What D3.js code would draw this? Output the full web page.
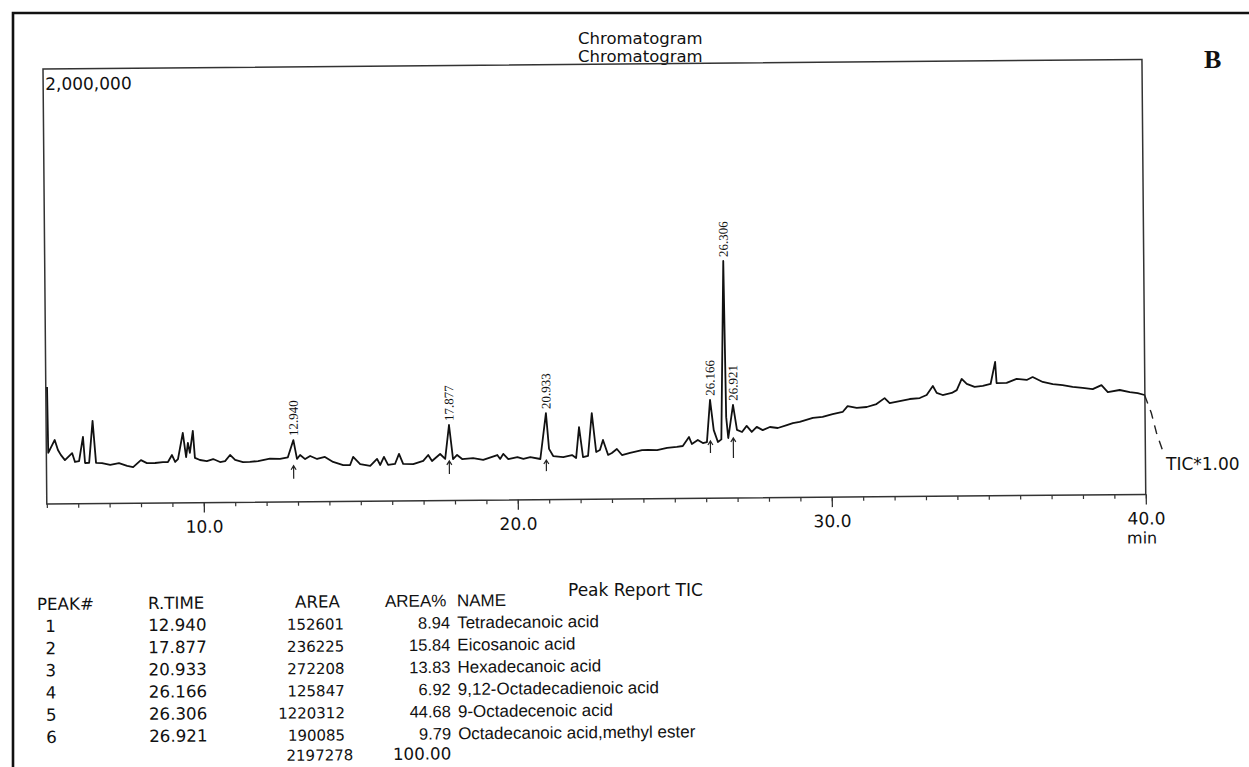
<!DOCTYPE html>
<html>
<head>
<meta charset="utf-8">
<script src="https://cdn.jsdelivr.net/npm/d3@7"></script>
<style>
  html, body { margin: 0; padding: 0; background: #fff; }
  svg { display: block; }
</style>
</head>
<body>
<svg id="chart" width="1249" height="767"></svg>
<script>
// ---------------- DATA ----------------
// TIC trace: retention time (min) and intensity (thousands of counts)
const traceMin = [5.04,5.06,5.27,5.37,5.46,5.59,5.82,5.91,6.04,6.17,
  6.23,6.36,6.48,6.58,6.77,7.03,7.31,7.57,7.76,8.01,
  8.20,8.46,8.71,8.87,9.00,9.10,9.19,9.35,9.45,9.51,
  9.57,9.67,9.73,9.89,10.11,10.31,10.53,10.69,10.85,11.01,
  11.26,11.48,11.74,12.12,12.44,12.69,12.87,12.98,13.08,13.24,
  13.40,13.62,13.87,14.13,14.45,14.67,14.77,14.99,15.31,15.53,
  15.63,15.75,15.88,16.10,16.23,16.36,16.68,17.00,17.16,17.28,
  17.54,17.70,17.83,17.95,18.08,18.24,18.59,18.91,19.36,19.45,
  19.55,19.71,20.00,20.19,20.41,20.73,20.92,21.01,21.14,21.46,
  21.74,21.87,21.97,22.09,22.25,22.38,22.51,22.63,22.73,22.89,
  23.01,23.17,23.33,23.59,23.97,24.16,24.45,24.77,25.08,25.27,
  25.47,25.56,25.75,25.91,26.04,26.15,26.26,26.39,26.50,26.61,
  26.66,26.72,26.88,27.00,27.16,27.31,27.47,27.63,27.82,28.05,
  28.30,28.59,28.78,29.00,29.42,29.73,30.05,30.37,30.53,30.82,
  31.14,31.45,31.71,31.87,32.19,32.51,32.83,33.05,33.25,33.37,
  33.56,33.85,34.01,34.17,34.33,34.58,34.84,35.09,35.24,35.28,
  35.60,35.92,36.24,36.43,36.75,37.07,37.38,37.70,38.02,38.34,
  38.62,38.82,39.20,39.52,39.77,39.99];
const traceK = [538,235,294,248,225,201,233,192,196,307,
  187,187,380,187,186,177,185,172,166,198,
  184,184,188,188,220,188,201,321,210,275,
  229,330,206,196,191,200,186,190,218,195,
  185,185,189,200,198,205,284,197,215,196,
  210,196,205,182,167,167,204,171,162,194,
  166,203,166,170,216,170,169,183,210,182,
  214,191,347,190,209,190,194,185,207,189,
  212,188,197,188,196,187,398,233,200,195,
  204,190,332,194,199,396,217,226,272,203,
  212,230,202,211,224,224,223,233,237,241,
  282,250,268,254,258,452,313,258,270,1090,
  372,276,428,313,303,331,303,326,311,325,
  320,333,342,347,365,369,382,391,418,409,
  413,426,453,430,439,448,452,466,507,475,
  465,474,487,538,515,501,505,514,615,518,
  518,536,531,544,521,511,506,497,492,486,
  504,472,481,471,466,457];
// trace continuing past the 40 min edge (dashed)
const tailMin = [39.99, 40.20, 40.36, 40.60];
const tailK   = [457, 374, 282, 180];

// labelled peaks: apex as drawn (min, thousands of counts)
const apexMin = [12.87, 17.83, 20.92, 26.15, 26.61, 26.88];
const apexK   = [284, 347, 398, 452, 1090, 428];
// integration arrows under peaks (thousands of counts), null = none drawn
const arrowTopK    = [166, 182, 182, 263, null, 276];
const arrowBottomK = [106, 122, 131, 208, null, 184];

// peak report table
const peakNo    = ["1","2","3","4","5","6"];
const rTime     = ["12.940","17.877","20.933","26.166","26.306","26.921"];
const area      = [152601, 236225, 272208, 125847, 1220312, 190085];
const areaPct   = ["8.94","15.84","13.83","6.92","44.68","9.79"];
const peakName  = ["Tetradecanoic acid","Eicosanoic acid","Hexadecanoic acid",
                   "9,12-Octadecadienoic acid","9-Octadecenoic acid",
                   "Octadecanoic acid,methyl ester"];
const totalArea = "2197278";
const totalPct  = "100.00";

// axes
const xDomain = [5, 40];
const yDomainK = [0, 2000];
const majorTicks = [10, 20, 30, 40];
const majorTickLabels = ["10.0", "20.0", "30.0", "40.0"];
const yTopLabel = "2,000,000";

// ---------------- DRAWING ----------------
const svg = d3.select("#chart");
const SANS = "'DejaVu Sans', Verdana, sans-serif";
const ARIAL = "'Liberation Sans', Arial, sans-serif";
const SERIF = "'Liberation Serif', 'Times New Roman', serif";

// outer frame of the scanned page
svg.append("path")
  .attr("d", "M13,767 L13,13 L1249,13")
  .attr("fill", "none").attr("stroke", "#111").attr("stroke-width", 2.6);

// titles
svg.append("text").attr("x", 578).attr("y", 44)
  .attr("font-family", SANS).attr("font-size", 16.5).attr("fill", "#111")
  .text("Chromatogram");
svg.append("text").attr("x", 578).attr("y", 62)
  .attr("font-family", SANS).attr("font-size", 16.5).attr("fill", "#111")
  .text("Chromatogram");
svg.append("text").attr("x", 1204).attr("y", 68)
  .attr("font-family", SERIF).attr("font-weight", "bold").attr("font-size", 26).attr("fill", "#111")
  .text("B");

// plot area (slightly rotated like the scan)
const L = 43, T = 69, R = 1142, B = 504;
const x = d3.scaleLinear().domain(xDomain).range([L, R]);
const y = d3.scaleLinear().domain(yDomainK).range([B, T]);

const plot = svg.append("g").attr("transform", `rotate(-0.5, ${L}, ${T})`);

plot.append("rect")
  .attr("x", L).attr("y", T).attr("width", R - L).attr("height", B - T)
  .attr("fill", "none").attr("stroke", "#333").attr("stroke-width", 1.5);

// minor ticks (every minute)
const minorAxis = d3.axisBottom(x).tickValues(d3.range(xDomain[0], xDomain[1] + 1))
  .tickSize(4).tickFormat("");
plot.append("g").attr("transform", `translate(0,${B})`).call(minorAxis)
  .call(g => g.select(".domain").remove())
  .call(g => g.selectAll("line").attr("stroke", "#333").attr("stroke-width", 1.2));

// major ticks with labels
const majorAxis = d3.axisBottom(x).tickValues(majorTicks).tickSize(10).tickPadding(8)
  .tickFormat(d => majorTickLabels[majorTicks.indexOf(d)]);
plot.append("g").attr("transform", `translate(0,${B})`).call(majorAxis)
  .call(g => g.select(".domain").remove())
  .call(g => g.selectAll("line").attr("stroke", "#333").attr("stroke-width", 1.3))
  .call(g => g.selectAll("text").attr("font-family", SANS).attr("font-size", 17).attr("fill", "#111"));

plot.append("text").attr("x", x(40) - 4).attr("y", 553)
  .attr("text-anchor", "middle").attr("font-family", SANS).attr("font-size", 16).attr("fill", "#111")
  .text("min");

plot.append("text").attr("x", L + 2).attr("y", y(yDomainK[1]) + 21)
  .attr("font-family", SANS).attr("font-size", 17).attr("fill", "#111")
  .text(yTopLabel);

// trace
const pts = traceMin.map((t, i) => [t, traceK[i]]);
const line = d3.line().x(d => x(d[0])).y(d => y(d[1]));
plot.append("path").datum(pts).attr("d", line)
  .attr("fill", "none").attr("stroke", "#111").attr("stroke-width", 1.8)
  .attr("stroke-linejoin", "round");

const tail = tailMin.map((t, i) => [t, tailK[i]]);
plot.append("path").datum(tail).attr("d", line)
  .attr("fill", "none").attr("stroke", "#222").attr("stroke-width", 1.4)
  .attr("stroke-dasharray", "9,7");

// peak labels
const peaks = apexMin.map((t, i) => ({ t, v: apexK[i], label: rTime[i],
  top: arrowTopK[i], bottom: arrowBottomK[i] }));
plot.selectAll(".plabel").data(peaks).join("text")
  .attr("class", "plabel")
  .attr("transform", d => `translate(${x(d.t)},${y(d.v) - 4}) rotate(-90)`)
  .attr("dy", "0.35em")
  .attr("font-family", SERIF).attr("font-size", 13).attr("fill", "#111")
  .text(d => d.label);

// integration arrows
const arrows = peaks.filter(d => d.top !== null);
plot.selectAll(".arr").data(arrows).join("path")
  .attr("class", "arr")
  .attr("d", d => {
    const xx = x(d.t), yt = y(d.top), yb = y(d.bottom);
    return `M${xx},${yb} L${xx},${yt} M${xx - 2.5},${yt + 4} L${xx},${yt} L${xx + 2.5},${yt + 4}`;
  })
  .attr("fill", "none").attr("stroke", "#222").attr("stroke-width", 1.2);

// TIC label
svg.append("text").attr("x", 1166).attr("y", 470)
  .attr("font-family", SANS).attr("font-size", 17).attr("fill", "#111")
  .text("TIC*1.00");

// ---------------- PEAK REPORT TABLE ----------------
svg.append("text").attr("x", 568).attr("y", 596)
  .attr("font-family", SANS).attr("font-size", 17).attr("fill", "#111")
  .text("Peak Report TIC");

const tbl = svg.append("g").attr("transform", "rotate(-0.5, 37, 611)");
const headY = 610, row0 = 632, rowH = 22.2;
const hdr = [
  { x: 37, text: "PEAK#", font: SANS, size: 16.7 },
  { x: 148, text: "R.TIME", font: SANS, size: 16.7 },
  { x: 295, text: "AREA", font: SANS, size: 16.7 },
  { x: 385, text: "AREA%", font: ARIAL, size: 17 },
  { x: 457, text: "NAME", font: ARIAL, size: 17 }
];
tbl.selectAll(".hdr").data(hdr).join("text").attr("class", "hdr")
  .attr("x", d => d.x).attr("y", headY)
  .attr("font-family", d => d.font).attr("font-size", d => d.size).attr("fill", "#111")
  .text(d => d.text);

const rows = peakNo.map((n, i) => ({ n, rt: rTime[i], a: area[i], p: areaPct[i], name: peakName[i], i }));
const rowG = tbl.selectAll(".row").data(rows).join("g").attr("class", "row")
  .attr("transform", d => `translate(0,${row0 + d.i * rowH})`);
rowG.append("text").attr("x", 45).attr("font-family", SANS).attr("font-size", 16.7).attr("fill", "#111").text(d => d.n);
rowG.append("text").attr("x", 148).attr("font-family", SANS).attr("font-size", 16.7).attr("fill", "#111").text(d => d.rt);
rowG.append("text").attr("x", 344).attr("text-anchor", "end").attr("font-family", SANS).attr("font-size", 15).attr("fill", "#111").text(d => d.a);
rowG.append("text").attr("x", 450).attr("text-anchor", "end").attr("font-family", ARIAL).attr("font-size", 16.5).attr("fill", "#111").text(d => d.p);
rowG.append("text").attr("x", 457).attr("font-family", ARIAL).attr("font-size", 17).attr("fill", "#111").text(d => d.name);

const totY = 763;
tbl.append("text").attr("x", 352).attr("y", totY).attr("text-anchor", "end")
  .attr("font-family", SANS).attr("font-size", 15).attr("fill", "#111").text(totalArea);
tbl.append("text").attr("x", 450).attr("y", totY).attr("text-anchor", "end")
  .attr("font-family", SANS).attr("font-size", 16.7).attr("fill", "#111").text(totalPct);
</script>
</body>
</html>
